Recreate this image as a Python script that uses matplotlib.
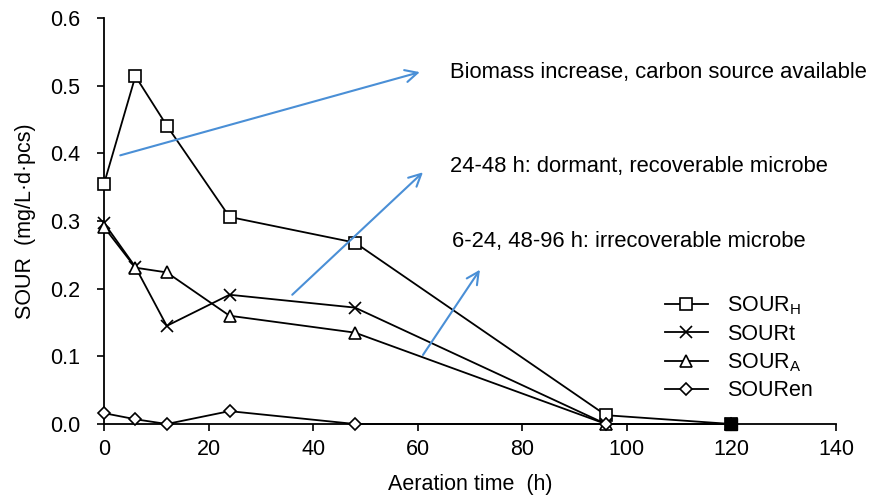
import matplotlib
matplotlib.use("Agg")
import matplotlib.pyplot as plt

plt.rcParams['font.family'] = ['Liberation Sans', 'DejaVu Sans']
plt.rcParams['mathtext.fontset'] = 'custom'
plt.rcParams['mathtext.rm'] = 'Liberation Sans'

time_h = [0, 6, 12, 24, 48, 96, 120]
sour_h = [0.355, 0.514, 0.441, 0.306, 0.268, 0.013, 0.0]
sour_t = [0.297, 0.232, 0.145, 0.191, 0.172, 0.0, 0.0]
sour_a = [0.291, 0.231, 0.224, 0.160, 0.135, 0.0, 0.0]
sour_en = [0.016, 0.007, 0.0, 0.019, 0.0, 0.0, 0.0]

labels = [r'SOUR$_\mathregular{H}$', 'SOURt', r'SOUR$_\mathregular{A}$', 'SOURen']
markers = ['s', 'x', '^', 'D']
msizes = [8, 8, 8, 6.5]

annot_texts = ["Biomass increase, carbon source available",
               "24-48 h: dormant, recoverable microbe",
               "6-24, 48-96 h: irrecoverable microbe"]
arrow_starts = [(3.1, 0.397), (36.0, 0.191), (61.0, 0.102)]
arrow_ends = [(60.4, 0.520), (61.0, 0.372), (71.9, 0.228)]
text_pos = [(66.2, 0.520), (66.2, 0.380), (66.6, 0.270)]

FS = 15.5

fig = plt.figure(figsize=(8.75, 4.98), dpi=100)
ax = fig.add_axes([0.1189, 0.1486, 0.8365, 0.8153])

series = [sour_h, sour_t, sour_a, sour_en]
handles = []
for s, lab, m, ms in zip(series, labels, markers, msizes):
    h, = ax.plot(time_h, s, color='black', lw=1.3, marker=m, markersize=ms,
                 markerfacecolor='white', markeredgecolor='black',
                 markeredgewidth=1.2, label=lab, clip_on=False, zorder=3)
    handles.append(h)
# filled end point of SOUR_H
ax.plot(time_h[-1:], sour_h[-1:], marker='s', markersize=8, color='black',
        linestyle='none', clip_on=False, zorder=4)

blue = '#4A8FD6'
for st, en in zip(arrow_starts, arrow_ends):
    ax.annotate('', xy=en, xytext=st,
                arrowprops=dict(arrowstyle='->', color=blue, lw=1.5,
                                mutation_scale=22, shrinkA=0, shrinkB=0))
for t, p in zip(annot_texts, text_pos):
    ax.text(p[0], p[1], t, fontsize=FS + 0.3, va='center', ha='left')

ax.set_xlim(0, 140)
ax.set_ylim(0, 0.6)
ax.set_xticks(range(0, 141, 20))
ax.set_yticks([0, 0.1, 0.2, 0.3, 0.4, 0.5, 0.6])
ax.set_yticklabels([f"{v:.1f}" for v in [0, 0.1, 0.2, 0.3, 0.4, 0.5, 0.6]])
ax.spines['top'].set_visible(False)
ax.spines['right'].set_visible(False)
for sp in ['left', 'bottom']:
    ax.spines[sp].set_linewidth(1.3)
ax.tick_params(axis='both', direction='out', length=5, width=1.2, labelsize=FS)
ax.tick_params(axis='y', pad=12)
ax.tick_params(axis='x', pad=6)
ax.set_xlabel('Aeration time  (h)', fontsize=FS, labelpad=10)
ax.set_ylabel('SOUR  (mg/L·d·pcs)', fontsize=FS, labelpad=10)

ax.legend(handles=handles, loc='upper left', bbox_to_anchor=(0.766, 0.318),
          frameon=False, fontsize=FS, handlelength=2.0, handletextpad=0.9,
          labelspacing=0.3, borderpad=0, borderaxespad=0)

fig.savefig('out.png', dpi=100, facecolor='white')
